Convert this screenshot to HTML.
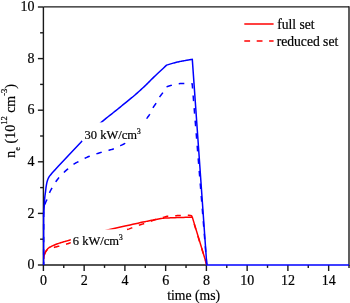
<!DOCTYPE html>
<html><head><meta charset="utf-8"><style>
html,body{margin:0;padding:0;background:#fff;}
svg{display:block;}
text{font-family:"Liberation Serif",serif;font-size:14px;fill:#000;stroke:#000;stroke-width:0.2px;}
.t{opacity:0.999;}
</style></head><body>
<svg width="350" height="303" viewBox="0 0 350 303">
<defs><filter id="gs" x="-0.05" y="-0.05" width="1.1" height="1.1" color-interpolation-filters="sRGB"><feColorMatrix type="saturate" values="0"/></filter></defs>
<rect width="350" height="303" fill="#fff"/>
<g stroke="#1a1a1a" stroke-width="1.4" fill="none">
<line x1="43.4" y1="6.9" x2="349.0" y2="6.9"/>
<line x1="349.0" y1="6.2" x2="349.0" y2="265.7"/>
<line x1="43.4" y1="6.9" x2="43.4" y2="265.0"/>
<line x1="43.4" y1="265.0" x2="206.8" y2="265.0"/>
<line x1="37.9" y1="265.00" x2="43.4" y2="265.00"/><line x1="40.1" y1="239.20" x2="43.4" y2="239.20"/><line x1="37.9" y1="213.40" x2="43.4" y2="213.40"/><line x1="40.1" y1="187.60" x2="43.4" y2="187.60"/><line x1="37.9" y1="161.80" x2="43.4" y2="161.80"/><line x1="40.1" y1="136.00" x2="43.4" y2="136.00"/><line x1="37.9" y1="110.20" x2="43.4" y2="110.20"/><line x1="40.1" y1="84.40" x2="43.4" y2="84.40"/><line x1="37.9" y1="58.60" x2="43.4" y2="58.60"/><line x1="40.1" y1="32.80" x2="43.4" y2="32.80"/><line x1="37.9" y1="7.00" x2="43.4" y2="7.00"/><line x1="43.40" y1="265.0" x2="43.40" y2="271.0"/><line x1="63.77" y1="265.0" x2="63.77" y2="267.9"/><line x1="84.15" y1="265.0" x2="84.15" y2="271.0"/><line x1="104.53" y1="265.0" x2="104.53" y2="267.9"/><line x1="124.90" y1="265.0" x2="124.90" y2="271.0"/><line x1="145.28" y1="265.0" x2="145.28" y2="267.9"/><line x1="165.65" y1="265.0" x2="165.65" y2="271.0"/><line x1="186.03" y1="265.0" x2="186.03" y2="267.9"/><line x1="206.40" y1="265.0" x2="206.40" y2="271.0"/><line x1="226.78" y1="265.0" x2="226.78" y2="267.9"/><line x1="247.15" y1="265.0" x2="247.15" y2="271.0"/><line x1="267.52" y1="265.0" x2="267.52" y2="267.9"/><line x1="287.90" y1="265.0" x2="287.90" y2="271.0"/><line x1="308.27" y1="265.0" x2="308.27" y2="267.9"/><line x1="328.65" y1="265.0" x2="328.65" y2="271.0"/><line x1="349.02" y1="265.0" x2="349.02" y2="267.9"/>
</g>
<g fill="none" stroke-linejoin="round">
<polyline points="43.75,258.85 43.81,258.36 43.86,257.87 43.91,257.38 43.96,256.89 44.01,256.40 44.09,255.91 44.18,255.43 44.30,254.95 44.45,254.46 44.63,253.96 44.83,253.47 45.04,252.98 45.27,252.50 45.51,252.03 45.75,251.58 46.00,251.15 46.22,250.79 46.45,250.43 46.68,250.09 46.92,249.76 47.17,249.44 47.43,249.14 47.71,248.84 48.00,248.55 48.33,248.26 48.67,247.99 49.03,247.73 49.40,247.48 49.79,247.24 50.19,247.01 50.59,246.78 51.00,246.55 51.46,246.30 51.94,246.07 52.42,245.84 52.92,245.61 53.43,245.39 53.95,245.18 54.47,244.96 55.00,244.75 55.59,244.51 56.20,244.28 56.83,244.05 57.46,243.82 58.09,243.60 58.73,243.38 59.37,243.16 60.00,242.95 60.62,242.75 61.25,242.55 61.87,242.36 62.50,242.18 63.12,241.99 63.75,241.81 64.37,241.63 65.00,241.45 65.60,241.28 66.18,241.11 66.74,240.95 67.31,240.80 67.90,240.63 68.53,240.46 69.23,240.26 70.00,240.05 71.71,239.58 73.70,239.03 75.90,238.43 78.26,237.78 80.71,237.12 83.19,236.45 85.64,235.78 88.00,235.15 90.40,234.51 92.82,233.86 95.26,233.20 97.71,232.54 100.16,231.90 102.59,231.26 105.01,230.64 107.40,230.05 109.63,229.51 111.83,229.00 114.01,228.50 116.18,228.01 118.35,227.52 120.54,227.04 122.75,226.55 125.00,226.05 127.49,225.49 130.10,224.91 132.77,224.31 135.44,223.72 138.05,223.15 140.55,222.60 142.89,222.10 145.00,221.65 146.24,221.39 147.38,221.16 148.46,220.94 149.48,220.74 150.49,220.55 151.49,220.35 152.52,220.16 153.60,219.95 154.80,219.72 156.03,219.50 157.26,219.27 158.51,219.05 159.76,218.82 161.01,218.60 162.26,218.37 163.50,218.15 164.92,218.09 166.32,218.02 167.71,217.96 169.10,217.89 170.52,217.83 171.96,217.77 173.45,217.71 175.00,217.65 176.99,217.58 179.08,217.52 181.23,217.45 183.43,217.39 185.66,217.33 187.89,217.27 190.11,217.21 192.30,217.15 206.80,265.00" stroke="#ff0000" stroke-width="1.5"/>
<polyline points="43.75,258.85 43.81,258.35 43.86,257.85 43.90,257.34 43.94,256.84 44.00,256.34 44.07,255.84 44.17,255.34 44.30,254.85 44.47,254.33 44.67,253.79 44.89,253.25 45.13,252.72 45.40,252.21 45.68,251.72 45.98,251.26 46.30,250.85 46.59,250.53 46.89,250.23 47.21,249.96 47.54,249.71 47.89,249.48 48.24,249.26 48.62,249.05 49.00,248.85 49.44,248.65 49.91,248.47 50.39,248.32 50.88,248.18 51.39,248.05 51.92,247.93 52.45,247.79 53.00,247.65 53.69,247.47 54.41,247.28 55.15,247.10 55.91,246.92 56.68,246.73 57.46,246.54 58.23,246.35 59.00,246.15 59.81,245.94 60.63,245.71 61.46,245.49 62.29,245.26 63.12,245.03 63.93,244.80 64.73,244.57 65.50,244.35 66.14,244.17 66.74,243.99 67.31,243.83 67.88,243.66 68.47,243.49 69.09,243.30 69.76,243.09 70.50,242.85 71.95,242.37 73.59,241.80 75.37,241.18 77.26,240.51 79.21,239.82 81.18,239.13 83.12,238.47 85.00,237.85 86.86,237.26 88.73,236.69 90.60,236.12 92.48,235.57 94.36,235.01 96.24,234.46 98.12,233.91 100.00,233.35" stroke="#ff0000" stroke-width="1.5" stroke-dasharray="5.6 7.0" stroke-dashoffset="8.200000000000001"/>
<polyline points="100.00,233.35 101.87,232.97 103.77,232.63 105.68,232.34 107.59,232.08 109.49,231.85 111.36,231.62 113.20,231.39 115.00,231.15 116.60,230.94 118.21,230.76 119.81,230.58 121.38,230.41 122.91,230.23 124.37,230.04 125.74,229.81 127.00,229.55 127.80,229.35 128.53,229.13 129.22,228.90 129.87,228.66 130.51,228.41 131.16,228.16 131.81,227.91 132.50,227.65 133.27,227.36 134.07,227.06 134.87,226.75 135.68,226.43 136.48,226.12 137.28,225.81 138.05,225.52 138.80,225.25 139.41,225.04 140.00,224.85 140.57,224.67 141.13,224.49 141.70,224.32 142.27,224.14 142.87,223.95 143.50,223.75 144.33,223.48 145.20,223.19 146.10,222.89 147.02,222.58 147.95,222.27 148.86,221.96 149.75,221.65 150.60,221.35 151.31,221.09 151.99,220.84 152.65,220.58 153.31,220.32 153.96,220.07 154.62,219.82 155.30,219.58 156.00,219.35 156.79,219.10 157.60,218.87 158.43,218.64 159.27,218.41 160.11,218.19 160.95,217.97 161.78,217.76 162.60,217.55 163.36,217.35 164.11,217.13 164.85,216.92 165.58,216.72 166.32,216.52 167.07,216.34 167.83,216.18 168.60,216.05 169.45,215.94 170.32,215.86 171.21,215.80 172.10,215.75 173.00,215.72 173.88,215.70 174.75,215.68 175.60,215.65 176.35,215.63 177.08,215.61 177.80,215.60 178.52,215.60 179.23,215.59 179.94,215.58 180.67,215.57 181.40,215.55 182.20,215.52 183.02,215.47 183.85,215.41 184.68,215.35 185.51,215.30 186.31,215.26 187.08,215.24 187.80,215.25 188.32,215.27 188.82,215.31 189.30,215.36 189.76,215.42 190.22,215.48 190.67,215.54 191.13,215.60 191.60,215.65 206.80,265.00" stroke="#ff0000" stroke-width="1.5" stroke-dasharray="5.6 7.0" stroke-dashoffset="10.5"/>
<polyline points="43.65,265.00 43.65,215.35 43.73,214.09 43.81,212.82 43.90,211.55 43.98,210.28 44.06,209.02 44.14,207.77 44.22,206.55 44.30,205.35 44.36,204.30 44.42,203.25 44.48,202.22 44.53,201.20 44.59,200.20 44.65,199.22 44.72,198.27 44.80,197.35 44.87,196.61 44.96,195.91 45.04,195.23 45.13,194.56 45.22,193.89 45.32,193.22 45.41,192.55 45.50,191.85 45.59,191.09 45.69,190.31 45.78,189.51 45.87,188.72 45.97,187.93 46.07,187.15 46.18,186.38 46.30,185.65 46.41,185.03 46.51,184.41 46.62,183.81 46.74,183.22 46.86,182.64 46.99,182.07 47.14,181.50 47.30,180.95 47.46,180.45 47.63,179.96 47.80,179.48 47.99,179.00 48.19,178.54 48.41,178.07 48.64,177.61 48.90,177.15 49.21,176.65 49.55,176.15 49.92,175.65 50.31,175.16 50.71,174.67 51.11,174.19 51.51,173.71 51.90,173.25 52.27,172.82 52.63,172.40 53.00,171.99 53.37,171.59 53.75,171.19 54.13,170.78 54.51,170.37 54.90,169.95 55.33,169.48 55.78,169.00 56.22,168.51 56.68,168.02 57.13,167.53 57.59,167.03 58.05,166.54 58.50,166.05 82.10,141.05 84.46,138.71 86.85,136.33 89.24,133.92 91.63,131.52 94.00,129.16 96.35,126.88 98.65,124.70 100.90,122.65 102.72,121.07 104.52,119.56 106.30,118.12 108.06,116.74 109.79,115.39 111.49,114.06 113.16,112.76 114.80,111.45 116.20,110.32 117.56,109.21 118.91,108.13 120.23,107.06 121.53,106.00 122.82,104.95 124.11,103.90 125.40,102.85 126.63,101.85 127.84,100.87 129.05,99.89 130.25,98.92 131.44,97.94 132.63,96.96 133.81,95.96 135.00,94.95 136.20,93.91 137.40,92.85 138.59,91.79 139.78,90.72 140.97,89.64 142.15,88.55 143.33,87.45 144.50,86.35 145.67,85.23 146.81,84.11 147.94,82.98 149.07,81.85 150.21,80.70 151.37,79.54 152.56,78.36 153.80,77.15 155.30,75.72 156.85,74.25 158.44,72.76 160.06,71.24 161.70,69.71 163.35,68.18 164.99,66.66 166.60,65.15 167.42,64.90 168.25,64.64 169.07,64.38 169.90,64.13 170.72,63.87 171.55,63.62 172.37,63.38 173.20,63.15 174.02,62.93 174.85,62.71 175.67,62.50 176.49,62.30 177.32,62.10 178.15,61.91 178.97,61.73 179.80,61.55 180.63,61.38 181.46,61.22 182.29,61.07 183.12,60.92 183.95,60.77 184.77,60.63 185.59,60.49 186.40,60.35 187.15,60.22 187.90,60.09 188.64,59.97 189.37,59.84 190.10,59.72 190.83,59.60 191.56,59.47 192.30,59.35 206.80,265.00 349.00,265.00" stroke="#0000ff" stroke-width="1.5"/>
<polyline points="43.65,265.00 43.65,210.35 43.74,209.78 43.82,209.21 43.90,208.63 43.98,208.05 44.07,207.48 44.17,206.92 44.27,206.37 44.40,205.85 44.52,205.41 44.65,204.99 44.79,204.58 44.94,204.18 45.10,203.79 45.26,203.38 45.43,202.97 45.60,202.55 45.81,202.05 46.04,201.55 46.27,201.04 46.52,200.53 46.77,200.00 47.02,199.46 47.26,198.91 47.50,198.35 47.76,197.67 48.01,196.96 48.26,196.23 48.51,195.49 48.76,194.74 49.03,193.99 49.30,193.26 49.60,192.55 49.91,191.87 50.24,191.19 50.59,190.52 50.94,189.86 51.30,189.20 51.66,188.54 52.03,187.90 52.40,187.25 52.76,186.62 53.13,185.99 53.49,185.37 53.87,184.75 54.24,184.14 54.63,183.53 55.01,182.94 55.40,182.35 55.77,181.81 56.13,181.27 56.50,180.75 56.87,180.24 57.25,179.73 57.64,179.21 58.06,178.69 58.50,178.15 59.06,177.49 59.67,176.81 60.30,176.11 60.96,175.42 61.62,174.72 62.29,174.04 62.95,173.38 63.60,172.75 64.17,172.20 64.74,171.67 65.30,171.16 65.87,170.66 66.43,170.16 67.01,169.66 67.60,169.16 68.20,168.65 68.88,168.07 69.58,167.47 70.29,166.86 71.01,166.25 71.74,165.65 72.46,165.08 73.19,164.54 73.90,164.05 74.51,163.66 75.12,163.31 75.72,162.99 76.32,162.68 76.92,162.39 77.53,162.09 78.16,161.78 78.80,161.45 79.54,161.06 80.31,160.66 81.09,160.24 81.89,159.83 82.68,159.41 83.47,159.01 84.25,158.62 85.00,158.25 85.65,157.94 86.28,157.63 86.90,157.34 87.52,157.05 88.14,156.77 88.77,156.49 89.42,156.22 90.10,155.95 90.91,155.64 91.76,155.34 92.63,155.04 93.52,154.75 94.41,154.47 95.29,154.19 96.16,153.91 97.00,153.65 97.73,153.42 98.45,153.20 99.16,152.98 99.86,152.77 100.56,152.57 101.27,152.36 101.98,152.16 102.70,151.95 103.47,151.73 104.26,151.52 105.05,151.31 105.85,151.11 106.65,150.90 107.44,150.69 108.23,150.47 109.00,150.25 109.73,150.04 110.45,149.83 111.17,149.63 111.88,149.42 112.59,149.20 113.29,148.97 114.00,148.72 114.70,148.45 115.43,148.14 116.15,147.81 116.88,147.46 117.60,147.09 118.32,146.72 119.02,146.35 119.72,145.99 120.40,145.65 121.00,145.36 121.59,145.09 122.17,144.83 122.74,144.56 123.31,144.29 123.87,144.01 124.43,143.69 125.00,143.35 125.63,142.92 126.26,142.46 126.89,141.96 127.51,141.44 128.13,140.92 128.75,140.39 129.38,139.86 130.00,139.35" stroke="#0000ff" stroke-width="1.5" stroke-dasharray="5.6 7.0" stroke-dashoffset="2.45"/>
<polyline points="130.00,139.35 130.85,138.43 131.70,137.42 132.55,136.33 133.40,135.17 134.27,133.98 135.16,132.77 136.07,131.55 137.00,130.35 138.14,128.94 139.36,127.45 140.63,125.91 141.92,124.36 143.17,122.84 144.36,121.39 145.45,120.05 146.40,118.85 146.90,118.20 147.37,117.62 147.79,117.07 148.19,116.55 148.57,116.04 148.95,115.51 149.32,114.95 149.70,114.35 150.14,113.59 150.55,112.78 150.96,111.93 151.36,111.07 151.76,110.21 152.16,109.35 152.57,108.53 153.00,107.75 153.40,107.10 153.81,106.47 154.22,105.87 154.64,105.27 155.06,104.69 155.48,104.09 155.89,103.48 156.30,102.85 156.72,102.15 157.13,101.42 157.54,100.69 157.94,99.94 158.35,99.19 158.75,98.46 159.17,97.74 159.60,97.05 160.01,96.43 160.44,95.84 160.87,95.26 161.31,94.69 161.75,94.12 162.18,93.55 162.60,92.96 163.00,92.35 163.40,91.70 163.79,91.04 164.16,90.37 164.53,89.68 164.90,89.00 165.26,88.31 165.63,87.63 166.00,86.95 166.76,86.72 167.52,86.49 168.28,86.26 169.04,86.02 169.80,85.80 170.56,85.57 171.33,85.36 172.10,85.15 172.88,84.95 173.66,84.74 174.45,84.54 175.24,84.35 176.03,84.17 176.82,84.01 177.61,83.86 178.40,83.75 179.18,83.67 179.96,83.61 180.73,83.57 181.51,83.55 182.29,83.54 183.08,83.54 183.89,83.55 184.70,83.55 185.61,83.56 186.53,83.59 187.46,83.62 188.41,83.67 189.36,83.71 190.31,83.76 191.26,83.81 192.20,83.85 206.80,265.00" stroke="#0000ff" stroke-width="1.5" stroke-dasharray="5.6 7.0" stroke-dashoffset="11.25"/>
</g>
<rect x="82" y="122.4" width="62" height="19" fill="#fff"/>
<rect x="70.8" y="229.4" width="54" height="19.4" fill="#fff"/>
<line x1="244.3" y1="24" x2="273.6" y2="24" stroke="#ff0000" stroke-width="1.5"/>
<line x1="244.3" y1="40.9" x2="273.6" y2="40.9" stroke="#ff0000" stroke-width="1.5" stroke-dasharray="5.8 6.6"/>
<g class="t" filter="url(#gs)">
<text x="84.6" y="139.0" style="font-size:12.5px">30 kW/cm<tspan font-size="7.5" dy="-5.5">3</tspan></text>
<text x="72.8" y="245" style="font-size:12.5px">6 kW/cm<tspan font-size="7.5" dy="-5.5">3</tspan></text>
<text x="34.4" y="269.10" text-anchor="end">0</text><text x="34.4" y="217.50" text-anchor="end">2</text><text x="34.4" y="165.90" text-anchor="end">4</text><text x="34.4" y="114.30" text-anchor="end">6</text><text x="34.4" y="62.70" text-anchor="end">8</text><text x="34.4" y="11.10" text-anchor="end">10</text>
<text x="43.40" y="284.5" text-anchor="middle">0</text><text x="84.15" y="284.5" text-anchor="middle">2</text><text x="124.90" y="284.5" text-anchor="middle">4</text><text x="165.65" y="284.5" text-anchor="middle">6</text><text x="206.40" y="284.5" text-anchor="middle">8</text><text x="247.15" y="284.5" text-anchor="middle">10</text><text x="287.90" y="284.5" text-anchor="middle">12</text><text x="328.65" y="284.5" text-anchor="middle">14</text>
<text x="193.6" y="299.8" text-anchor="middle" style="font-size:13.7px">time (ms)</text>
<text transform="translate(14.6,157.8) rotate(-90)" style="font-size:14px">n<tspan font-size="8.5" dy="5.1">e</tspan><tspan dy="-5.1"> (10</tspan><tspan font-size="8.5" dy="-7.2">12</tspan><tspan dy="7.2"> cm</tspan><tspan font-size="8.5" dy="-7.2">-3</tspan><tspan dy="7.2">)</tspan></text>
<text x="277.2" y="28.9" style="font-size:13.6px">full set</text>
<text x="276.7" y="45.8" style="font-size:13.6px">reduced set</text>
</g>
</svg>
</body></html>
